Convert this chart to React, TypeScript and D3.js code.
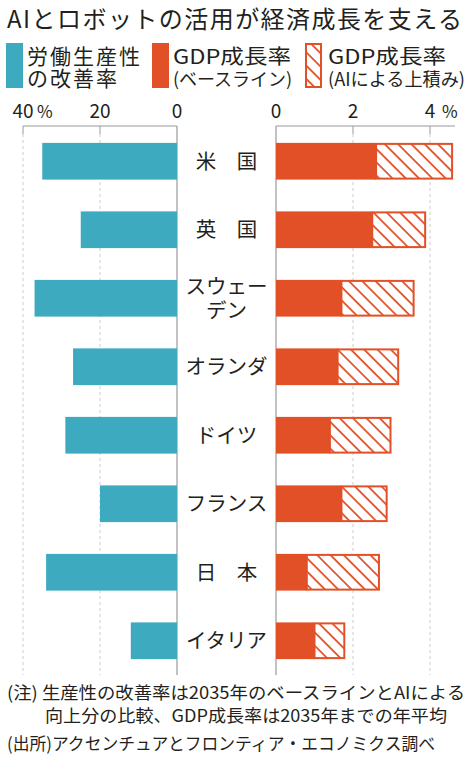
import * as d3 from "d3";

const categories = ["米　国", "英　国", "スウェー\nデン", "オランダ", "ドイツ", "フランス", "日　本", "イタリア"];
const productivity = [35, 25, 37, 27, 29, 20, 34, 12];
const gdpBaseline = [2.6, 2.5, 1.7, 1.6, 1.4, 1.7, 0.8, 1.0];
const gdpWithAI = [4.6, 3.9, 3.6, 3.2, 3.0, 2.9, 2.7, 1.8];
const leftTicks = [40, 20, 0];
const rightTicks = [0, 2, 4];
const notes = [
  "(注) 生産性の改善率は2035年のベースラインとAIによる",
  "向上分の比較、GDP成長率は2035年までの年平均",
  "(出所)アクセンチュアとフロンティア・エコノミクス調べ",
];

const TEAL = "#3eaac0";
const ORANGE = "#e25027";
const INK = "#231f20";
const FONT = "'Noto Sans CJK JP', 'Noto Sans', sans-serif";

export default function App() {
  const width = 472;
  const height = 764;
  const top = 126;
  const bottom = 675;

  const xL = d3.scaleLinear().domain([0, 40]).range([177, 23]);
  const xR = d3.scaleLinear().domain([0, 4]).range([276, 430]);
  const y = d3
    .scaleBand<string>()
    .domain(categories)
    .range([top + 1, bottom])
    .paddingInner(0.464)
    .paddingOuter(0.232);
  const bh = y.bandwidth();
  const mid = (xL(0) + xR(0)) / 2;

  return (
    <svg
      width={width}
      height={height}
      style={{ position: "absolute", left: 0, top: 0, background: "#fff" }}
      fontFamily={FONT}
    >
      <defs>
        <pattern
          id="hatch"
          patternUnits="userSpaceOnUse"
          width={9.4}
          height={9.4}
          patternTransform="rotate(-45)"
        >
          <rect width={9.4} height={9.4} fill="#fff" />
          <line x1={1} y1={0} x2={1} y2={9.4} stroke={ORANGE} strokeWidth={1.8} />
        </pattern>
      </defs>

      {/* title */}
      <text x={7} y={28} fontSize={24} fill={INK} textLength={455} lengthAdjust="spacing">
        AIとロボットの活用が経済成長を支える
      </text>

      {/* legend */}
      <rect x={6} y={43} width={17} height={45} fill={TEAL} />
      <text x={27} y={64} fontSize={21} fill={INK} textLength={113} lengthAdjust="spacing">労働生産性</text>
      <text x={27} y={86} fontSize={21} fill={INK} textLength={90} lengthAdjust="spacing">の改善率</text>

      <rect x={152} y={43} width={17} height={45} fill={ORANGE} />
      <text x={173} y={64} fontSize={20} fill={INK} textLength={118} lengthAdjust="spacingAndGlyphs">GDP成長率</text>
      <text x={173} y={86} fontSize={18} fill={INK} textLength={119} lengthAdjust="spacingAndGlyphs">(ベースライン)</text>

      <rect x={306} y={44} width={15} height={43} fill="url(#hatch)" stroke={ORANGE} strokeWidth={2} />
      <text x={328} y={64} fontSize={20} fill={INK} textLength={118} lengthAdjust="spacingAndGlyphs">GDP成長率</text>
      <text x={328} y={86} fontSize={18} fill={INK} textLength={137} lengthAdjust="spacingAndGlyphs">(AIによる上積み)</text>

      {/* axes */}
      <line x1={xL(40)} x2={xL(0)} y1={top} y2={top} stroke="#999" strokeWidth={1} />
      <line x1={xR(0)} x2={455} y1={top} y2={top} stroke="#999" strokeWidth={1} />
      {leftTicks.map((t) => (
        <g key={`l${t}`}>
          <text x={xL(t)} y={118} fontSize={19} textAnchor="middle" fill={INK}>
            {t}
          </text>
          {t === 40 && (
            <text x={xL(t) + 14} y={118} fontSize={17} fill={INK}>%</text>
          )}
          {t !== 0 && (
            <>
              <line x1={xL(t)} x2={xL(t)} y1={top} y2={top + 8} stroke="#999" />
              <line x1={xL(t)} x2={xL(t)} y1={top + 8} y2={bottom} stroke="#ccc" strokeDasharray="3,3" />
            </>
          )}
        </g>
      ))}
      {rightTicks.map((t) => (
        <g key={`r${t}`}>
          <text x={xR(t)} y={118} fontSize={19} textAnchor="middle" fill={INK}>
            {t}
          </text>
          {t === 4 && (
            <text x={xR(t) + 12} y={118} fontSize={17} fill={INK}>%</text>
          )}
          {t !== 0 && (
            <>
              <line x1={xR(t)} x2={xR(t)} y1={top} y2={top + 8} stroke="#999" />
              <line x1={xR(t)} x2={xR(t)} y1={top + 8} y2={bottom} stroke="#ccc" strokeDasharray="3,3" />
            </>
          )}
        </g>
      ))}
      <line x1={xL(0)} x2={xL(0)} y1={top} y2={bottom} stroke="#999" strokeWidth={1.2} />
      <line x1={xR(0)} x2={xR(0)} y1={top} y2={bottom} stroke="#999" strokeWidth={1.2} />

      {/* bars */}
      {categories.map((c, i) => {
        const y0 = y(c)!;
        const lines = c.split("\n");
        const cy = y0 + bh / 2;
        return (
          <g key={c}>
            <rect x={xL(productivity[i])} y={y0} width={xL(0) - xL(productivity[i])} height={bh} fill={TEAL} />
            <rect x={xR(0)} y={y0} width={xR(gdpBaseline[i]) - xR(0)} height={bh} fill={ORANGE} />
            <rect
              x={xR(gdpBaseline[i])}
              y={y0 + 1}
              width={xR(gdpWithAI[i]) - xR(gdpBaseline[i]) - 1}
              height={bh - 2}
              fill="url(#hatch)"
              stroke={ORANGE}
              strokeWidth={2}
            />
            {lines.map((ln, k) => (
              <text
                key={k}
                x={mid}
                y={cy + 7.5 + (k - (lines.length - 1) / 2) * 24.5}
                fontSize={20.5}
                textAnchor="middle"
                fill={INK}
              >
                {ln}
              </text>
            ))}
          </g>
        );
      })}

      {/* notes */}
      <text x={7} y={699} fontSize={17.5} fill={INK} textLength={458} lengthAdjust="spacingAndGlyphs">
        {notes[0]}
      </text>
      <text x={45} y={722} fontSize={17.5} fill={INK} textLength={402} lengthAdjust="spacingAndGlyphs">
        {notes[1]}
      </text>
      <text x={7} y={750} fontSize={17.5} fill={INK} textLength={428} lengthAdjust="spacingAndGlyphs">
        {notes[2]}
      </text>
    </svg>
  );
}
